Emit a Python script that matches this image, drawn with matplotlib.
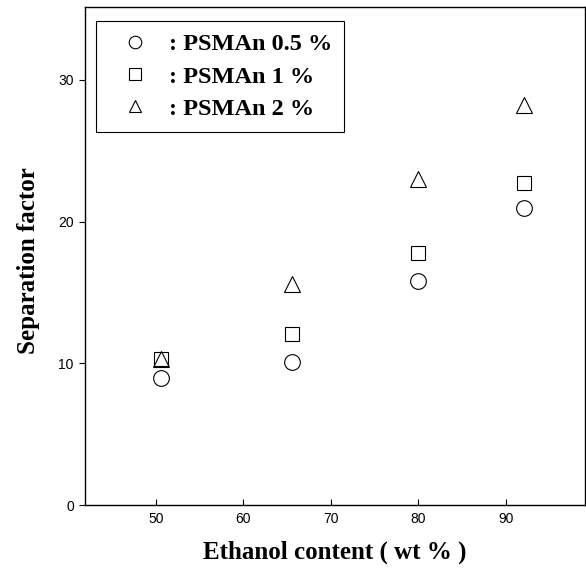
import matplotlib
matplotlib.use('Agg')
import matplotlib.pyplot as plt

# ethanol content in feed (wt %)
ethanol = [50.6, 65.6, 80.0, 92.1]

# separation factor for each PSMAn loading
sep_05 = [9.0, 10.1, 15.8, 21.0]
sep_1 = [10.3, 12.1, 17.8, 22.7]
sep_2 = [10.3, 15.6, 23.0, 28.2]

series_labels = [': PSMAn 0.5 %', ': PSMAn 1 %', ': PSMAn 2 %']
x_ticks = [50, 60, 70, 80, 90]
y_ticks = [0, 10, 20, 30]

serif_bold = {'family': 'Liberation Serif', 'weight': 'bold'}

fig = plt.figure(figsize=(5.86, 5.78), dpi=100)
ax = fig.add_axes([0.145, 0.126, 0.854, 0.862])

h1, = ax.plot(ethanol, sep_05, 'o', ms=11.3, mfc='none', mec='black', mew=0.8)
h2, = ax.plot(ethanol, sep_1, 's', ms=10, mfc='none', mec='black', mew=0.8)
h3, = ax.plot(ethanol, sep_2, '^', ms=11.5, mfc='none', mec='black', mew=0.8)

ax.set_xlim(41.9, 99.1)
ax.set_ylim(0, 35.15)
ax.set_xticks(x_ticks)
ax.set_yticks(y_ticks)

for lab in ax.get_xticklabels() + ax.get_yticklabels():
    lab.set_fontfamily('Liberation Sans')
    lab.set_fontsize(10)

ax.tick_params(axis='x', direction='in', length=4, width=0.8, pad=5)
ax.tick_params(axis='y', direction='out', length=4, width=0.8, pad=4)
for sp in ax.spines.values():
    sp.set_linewidth(1.0)

ax.set_xlabel('Ethanol content ( wt % )', fontdict=serif_bold, fontsize=18)
ax.set_ylabel('Separation factor', fontdict=serif_bold, fontsize=18)
ax.xaxis.set_label_coords(0.5, -0.072)
ax.yaxis.set_label_coords(-0.09, 0.49)

leg = ax.legend([h1, h2, h3], series_labels, loc='upper left',
                bbox_to_anchor=(0.022, 0.972), borderaxespad=0,
                prop={'family': 'Liberation Serif', 'weight': 'bold', 'size': 17.5},
                fancybox=False, edgecolor='black', framealpha=1,
                handlelength=2.2, handletextpad=0.3, labelspacing=0.43,
                borderpad=0.5, markerscale=0.8)
leg.get_frame().set_linewidth(0.8)

fig.savefig('out.png', dpi=100)
